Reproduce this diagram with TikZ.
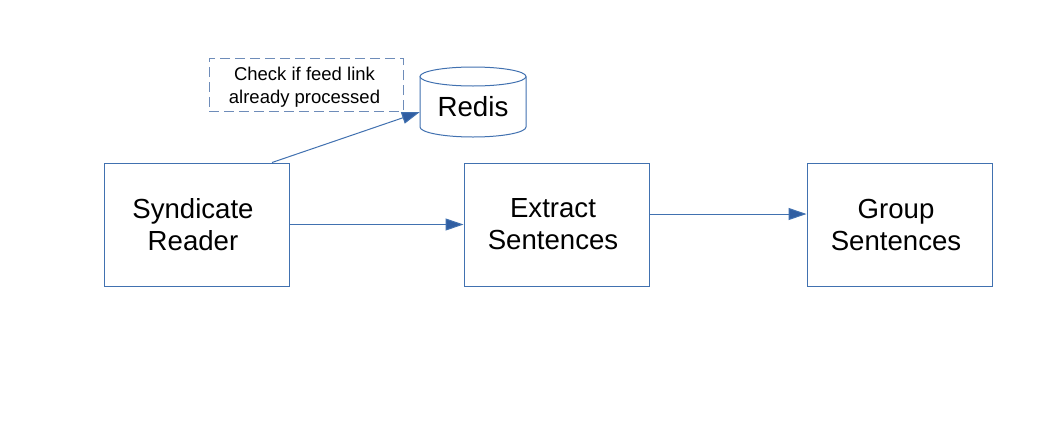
\documentclass[tikz,border=0pt]{standalone}
\usepackage{fontspec}
\setmainfont{Liberation Sans}
\usetikzlibrary{arrows.meta,calc}
\definecolor{lineblue}{RGB}{65,113,176}
\definecolor{tipblue}{RGB}{48,94,162}
\definecolor{noteblue}{RGB}{110,140,185}
\begin{document}
\begin{tikzpicture}[x=1pt,y=-1pt,
  procbox/.style={draw=lineblue,line width=1pt,minimum width=185pt,minimum height=123pt,inner sep=0pt,align=center,font=\fontsize{27.6}{32}\selectfont},
  notebox/.style={draw=noteblue,line width=1pt,dash pattern=on 10pt off 5pt,minimum width=194pt,minimum height=53pt,inner sep=0pt,align=center,font=\fontsize{18.5}{23}\selectfont},
  conn/.style={draw=lineblue,line width=1pt,-{Triangle[length=18pt,width=12pt,fill=tipblue]}},
  cyl/.style={draw=lineblue,line width=1pt,fill=white}]
\useasboundingbox (0,0) rectangle (1059,445);
\fill[white] (0,0) rectangle (1059,445);
\node[procbox] (sr) at (196.5,224.5) {Syndicate\hspace*{7pt}\\Reader\hspace*{7pt}};
\node[procbox] (es) at (556.5,224.5) {Extract\hspace*{7pt}\\Sentences\hspace*{7pt}};
\node[procbox] (gs) at (899.5,224.5) {Group\hspace*{7pt}\\Sentences\hspace*{7pt}};
\node[notebox] (note) at (306,84.5) {};
\node[font=\fontsize{18.5}{23}\selectfont,align=center,inner sep=0pt] (notetext) at (304.5,87) {Check if feed link\\already processed};
% Redis cylinder
\node[minimum width=106pt,minimum height=70pt,inner sep=0pt] (redis) at (473,102) {};
\draw[cyl] (420,76.5) -- (420,127) arc[start angle=180,end angle=0,x radius=53,y radius=10] -- (526,76.5);
\draw[cyl] (473,76.5) ellipse[x radius=53,y radius=9.5];
\node[font=\fontsize{27.7}{32}\selectfont] (redislabel) at (473,107) {Redis};
% connectors
\draw[conn] ($(sr.north)+(75.5,0)$) -- ($(redis.west)+(0,10)$);
\draw[conn] (sr.east) -- (es.west);
\draw[conn] ($(es.east)+(0,-10.5)$) -- ($(gs.west)+(0,-10.5)$);
\end{tikzpicture}
\end{document}
